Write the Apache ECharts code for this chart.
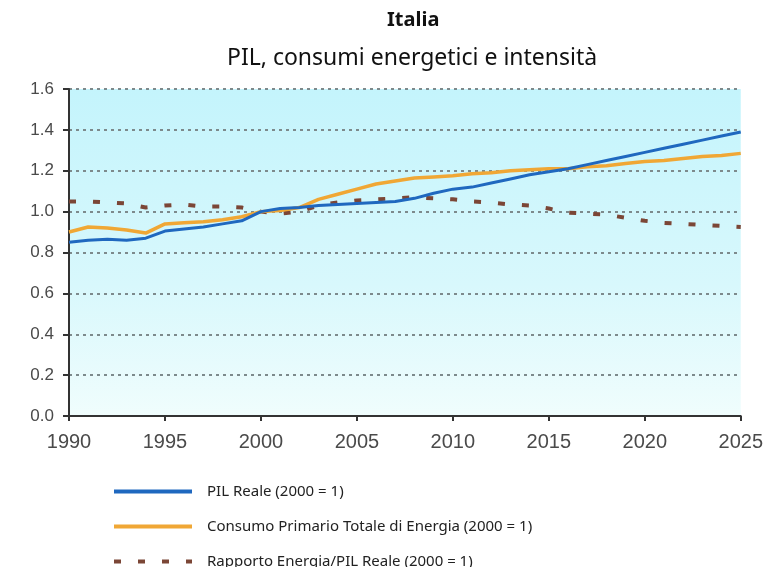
<!DOCTYPE html>
<html>
<head>
<meta charset="utf-8">
<script src="https://cdn.jsdelivr.net/npm/echarts@6/dist/echarts.min.js"></script>
<style>
  html, body { margin: 0; padding: 0; background: #fff; }
  #chart { width: 766px; height: 567px; }
</style>
</head>
<body>
<div id="chart"></div>
<script>
// anni 1990 - 2025
const years = [];
for (let y = 1990; y <= 2025; y++) years.push(y);

const pilReale = [
  0.85, 0.86, 0.865, 0.86, 0.87, 0.905, 0.915, 0.925, 0.94, 0.955,
  1.0, 1.015, 1.02, 1.03, 1.035, 1.04, 1.045, 1.05, 1.065, 1.09,
  1.11, 1.12, 1.14, 1.16, 1.18, 1.195, 1.21, 1.23, 1.25, 1.27,
  1.29, 1.31, 1.33, 1.35, 1.37, 1.39
];
const consumoEnergia = [
  0.90, 0.925, 0.92, 0.91, 0.895, 0.94, 0.945, 0.95, 0.96, 0.975,
  1.0, 1.005, 1.02, 1.06, 1.085, 1.11, 1.135, 1.15, 1.165, 1.17,
  1.175, 1.185, 1.19, 1.2, 1.205, 1.21, 1.21, 1.22, 1.225, 1.235,
  1.245, 1.25, 1.26, 1.27, 1.275, 1.285
];
const rapportoEnergiaPil = [
  1.05, 1.05, 1.045, 1.04, 1.02, 1.03, 1.035, 1.025, 1.025, 1.02,
  1.0, 0.99, 1.0, 1.03, 1.045, 1.055, 1.06, 1.065, 1.07, 1.065,
  1.06, 1.05, 1.045, 1.035, 1.03, 1.015, 0.995, 0.99, 0.985, 0.97,
  0.955, 0.945, 0.94, 0.935, 0.93, 0.925
];

const seriesNames = [
  'PIL Reale (2000 = 1)',
  'Consumo Primario Totale di Energia (2000 = 1)',
  'Rapporto Energia/PIL Reale (2000 = 1)'
];

const pairs = (vals) => years.map((y, i) => [y, vals[i]]);

const chart = echarts.init(document.getElementById('chart'));

const option = {
  animation: false,
  title: [
    {
      text: 'Italia',
      left: 382,
      top: 5,
      textStyle: { fontFamily: 'Noto Sans', fontSize: 20, fontWeight: 'bold', color: '#111' }
    },
    {
      text: 'PIL, consumi energetici e intensità',
      left: 222,
      top: 42,
      textStyle: { fontFamily: 'Noto Sans', fontSize: 23, fontWeight: 'normal', color: '#111' }
    }
  ],
  legend: {
    orient: 'vertical',
    left: 107,
    top: 479,
    height: 100,
    itemWidth: 78,
    itemHeight: 14,
    itemGap: 20,
    itemStyle: { opacity: 0 },
    lineStyle: { width: 4 },
    textStyle: { fontFamily: 'Noto Sans', fontSize: 15, color: '#222', padding: [0, 0, 0, 10] },
    data: seriesNames
  },
  grid: {
    left: 69,
    right: 25,
    top: 89,
    bottom: 151,
    show: true,
    borderWidth: 0,
    backgroundColor: new echarts.graphic.LinearGradient(0, 0, 0, 1, [
      { offset: 0, color: '#c4f4fc' },
      { offset: 0.6, color: '#d8f8fc' },
      { offset: 1, color: '#f0fdfd' }
    ])
  },
  xAxis: {
    type: 'value',
    min: 1990,
    max: 2025,
    interval: 5,
    axisLine: { lineStyle: { color: '#333', width: 2 } },
    axisTick: { show: true, length: 5, lineStyle: { color: '#333', width: 2 } },
    axisLabel: {
      fontFamily: 'Liberation Sans',
      fontSize: 20,
      color: '#4a4a4a',
      margin: 16,
      formatter: (v) => String(v)
    },
    splitLine: { show: false }
  },
  yAxis: {
    type: 'value',
    min: 0,
    max: 1.6,
    interval: 0.2,
    axisLine: { show: true, lineStyle: { color: '#333', width: 2 } },
    axisTick: { show: true, length: 6, lineStyle: { color: '#333', width: 2 } },
    axisLabel: {
      fontFamily: 'Liberation Sans',
      fontSize: 17,
      color: '#4a4a4a',
      margin: 15,
      formatter: (v) => v.toFixed(1)
    },
    splitLine: { show: true, lineStyle: { color: '#7d8a8c', width: 2, type: [3, 4] } }
  },
  series: [
    {
      name: seriesNames[2],
      type: 'line',
      data: pairs(rapportoEnergiaPil),
      showSymbol: false,
      symbol: 'none',
      lineStyle: { color: '#7b4636', width: 4, type: [7, 17] },
      itemStyle: { color: '#7b4636' },
      z: 2
    },
    {
      name: seriesNames[1],
      type: 'line',
      data: pairs(consumoEnergia),
      showSymbol: false,
      symbol: 'none',
      lineStyle: { color: '#f0a735', width: 3.5 },
      itemStyle: { color: '#f0a735' },
      z: 3
    },
    {
      name: seriesNames[0],
      type: 'line',
      data: pairs(pilReale),
      showSymbol: false,
      symbol: 'none',
      lineStyle: { color: '#1f68bf', width: 3 },
      itemStyle: { color: '#1f68bf' },
      z: 4
    }
  ]
};

chart.setOption(option);
</script>
</body>
</html>
